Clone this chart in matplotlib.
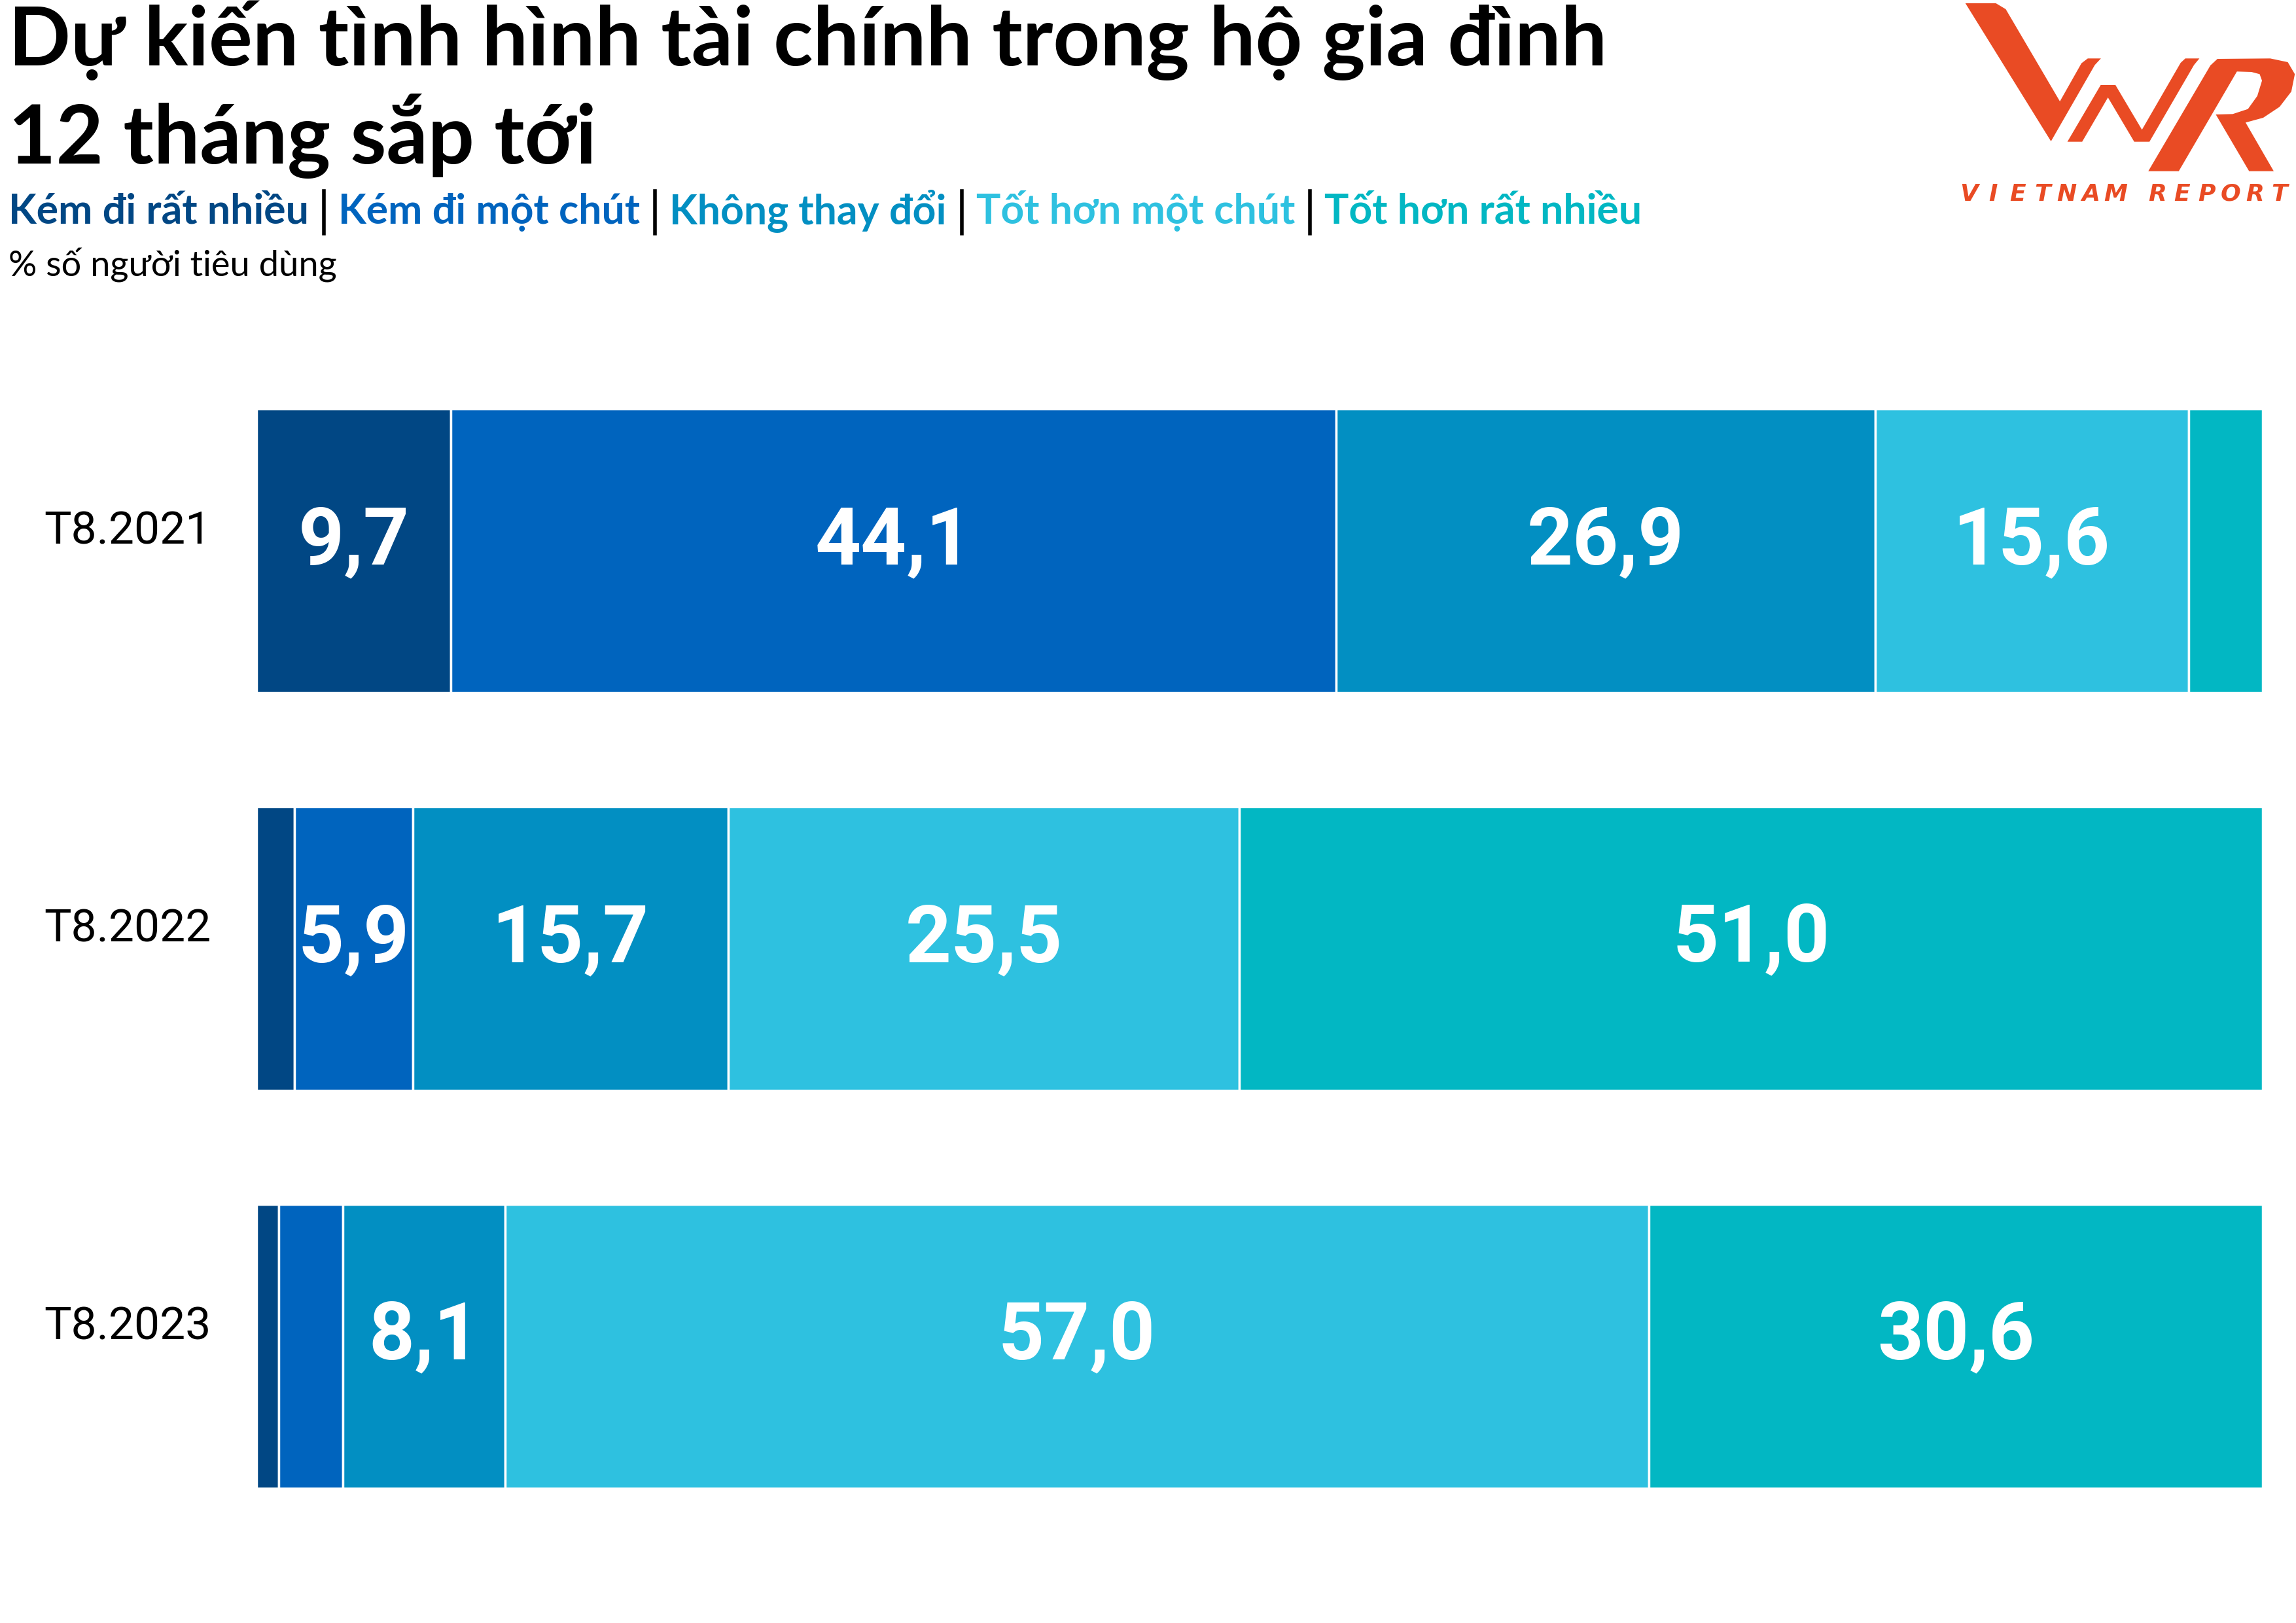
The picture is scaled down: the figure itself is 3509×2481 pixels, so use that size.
import numpy as np
import matplotlib.pyplot as plt
from matplotlib import font_manager
from matplotlib.patches import Polygon

# data
periods = ["T8.2021", "T8.2022", "T8.2023"]
series = ["Kém đi rất nhiều", "Kém đi một chút", "Không thay đổi",
          "Tốt hơn một chút", "Tốt hơn rất nhiều"]
much_worse = [9.7, 1.9, 1.1]
bit_worse = [44.1, 5.9, 3.2]
no_change = [26.9, 15.7, 8.1]
bit_better = [15.6, 25.5, 57.0]
much_better = [3.7, 51.0, 30.6]
colors = ["#014784", "#0064BE", "#028FC2", "#2EC1E0", "#02B7C3"]

names = {f.name for f in font_manager.fontManager.ttflist}
head = "Lato" if "Lato" in names else "DejaVu Sans"
num_font = "Roboto" if "Roboto" in names else "DejaVu Sans"

W, H = 3509, 2481
fig = plt.figure(figsize=(W / 100, H / 100), dpi=100)

# title block
fig.text(13 / W, 1 - 100 / H, "Dự kiến tình hình tài chính trong hộ gia đình",
         fontsize=90, fontweight="bold", family=head, va="baseline")
fig.text(13 / W, 1 - 250 / H, "12 tháng sắp tới",
         fontsize=90, fontweight="bold", family=head, va="baseline")
fig.text(13 / W, 1 - 422 / H, "% số người tiêu dùng",
         fontsize=39, family=head, va="baseline")

# coloured legend line with separators
fig.canvas.draw()
r = fig.canvas.get_renderer()
x = 13
for i, (name, c) in enumerate(zip(series, colors)):
    t = fig.text(x / W, 1 - 342 / H, name, fontsize=45, fontweight="bold",
                 family=head, color=c, va="baseline")
    x = t.get_window_extent(r).x1 + 23
    if i < len(series) - 1:
        fig.add_artist(plt.Line2D([x / W, x / W], [1 - 292 / H, 1 - 357 / H],
                                  color="black", lw=4))
        x += 22

# bars
ax = fig.add_axes([392 / W, 1 - 2275 / H, (3458 - 392) / W, (2275 - 625) / H])
ypos = np.arange(len(periods))
left = np.zeros(len(periods))
for vals, c in zip([much_worse, bit_worse, no_change, bit_better, much_better], colors):
    vals = np.array(vals)
    ax.barh(ypos, vals, left=left, height=0.714, color=c,
            edgecolor="white", linewidth=2.5)
    for yy, l, v in zip(ypos, left, vals):
        if v >= 5:
            ax.text(l + v / 2, yy + 0.033, f"{v:.1f}".replace(".", ","),
                    ha="center", va="baseline", color="white",
                    fontsize=88, fontweight="bold", family=num_font)
    left += vals

ax.set_xlim(0, 100)
ax.set_ylim(len(periods) - 1 + 0.357, -0.357)
ax.axis("off")

for yy, p in zip(ypos, periods):
    ax.text(-6.43, yy - 0.018, p, ha="center", va="baseline", fontsize=50,
            color="black", family=num_font)

# VNR logo, drawn in the crop's own coordinates
lg = fig.add_axes([2950 / W, 1 - 330 / H, 559 / W, 330 / H])
lg.set_xlim(0, 1560)
lg.set_ylim(990, 0)
lg.axis("off")
orange = "#E94B24"
v_shape = [(150, 15), (280, 15), (322, 42), (553, 465), (645, 290), (672, 268),
           (728, 268), (702, 298), (515, 648)]
n_shape = [(585, 650), (727, 390), (790, 390), (903, 595), (1068, 288), (1088, 268),
           (1148, 268), (1125, 298), (935, 650), (870, 650), (758, 447), (648, 650)]
r_shape = [(930, 785), (1195, 300), (1225, 270), (1450, 268), (1525, 285), (1555, 340),
           (1540, 420), (1490, 490), (1420, 540), (1345, 562), (1465, 785), (1360, 785),
           (1218, 525), (1290, 523), (1355, 500), (1395, 440), (1415, 370), (1405, 340),
           (1370, 330), (1308, 328), (1060, 785)]
for shp in (v_shape, n_shape, r_shape):
    lg.add_patch(Polygon(shp, closed=True, color=orange, lw=0))
for word, x0, x1 in (("VIETNAM", 165, 790), ("REPORT", 970, 1490)):
    for ch, cx in zip(word, np.linspace(x0, x1, len(word))):
        lg.text(cx, 920, ch, ha="center", va="baseline", fontsize=26,
                fontweight="bold", style="italic", color=orange, family="DejaVu Sans")

fig.savefig("out.png", dpi=100, facecolor="white")
